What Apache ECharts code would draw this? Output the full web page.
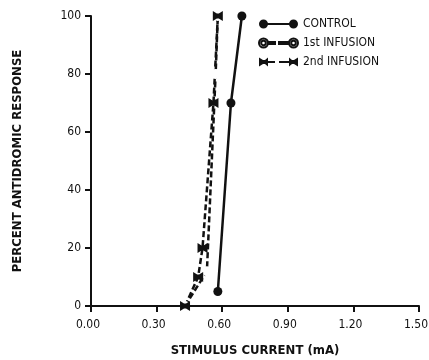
<!DOCTYPE html>
<html>
<head>
<meta charset="utf-8">
<script src="https://cdn.jsdelivr.net/npm/echarts@6/dist/echarts.min.js"></script>
<style>
  html, body { margin: 0; padding: 0; background: #fff; }
  #chart { width: 429px; height: 360px; }
</style>
</head>
<body>
<div id="chart"></div>
<script>
// Stimulus current (mA) vs. percent antidromic response
const seriesNames = ['CONTROL', '1st INFUSION', '2nd INFUSION'];
const controlCurrent = [0.58, 0.64, 0.69];
const controlResponse = [5, 70, 100];
const infusion1Current = [0.43, 0.53, 0.57, 0.58];
const infusion1Response = [0, 12, 80, 100];
const infusion2Current = [0.43, 0.49, 0.51, 0.56, 0.58];
const infusion2Response = [0, 10, 20, 70, 100];
const xTicks = [0, 0.3, 0.6, 0.9, 1.2, 1.5];
const yTicks = [0, 20, 40, 60, 80, 100];

const FONT = "'DejaVu Sans Condensed','Liberation Sans Narrow',sans-serif";
const INK = '#111';

function pairs(xs, ys) { return xs.map((x, i) => [x, ys[i]]); }

// bow-tie marker used for the second infusion
const bowTie = 'path://M0,0 L4,2.5 L6,2.5 L10,0 L10,10 L6,7.5 L4,7.5 L0,10 Z';

// legend sample glyphs: line with a marker at each end
const iconControl = 'path://M0,5 A4.5,4.5 0 1,1 9,5 A4.5,4.5 0 1,1 0,5 Z M8,4 L31,4 L31,6 L8,6 Z M30,5 A4.5,4.5 0 1,1 39,5 A4.5,4.5 0 1,1 30,5 Z';
const iconInf1 = 'path://M0,5 A4.5,4.5 0 1,1 9,5 A4.5,4.5 0 1,1 0,5 Z M2.2,5 A2.3,2.3 0 1,0 6.8,5 A2.3,2.3 0 1,0 2.2,5 Z M9,4 L16,4 L16,6 L9,6 Z M20,4 L30,4 L30,6 L20,6 Z M30,5 A4.5,4.5 0 1,1 39,5 A4.5,4.5 0 1,1 30,5 Z M32.2,5 A2.3,2.3 0 1,0 36.8,5 A2.3,2.3 0 1,0 32.2,5 Z';
const iconInf2 = 'path://M0,0.5 L4,3 L6,3 L9,0.5 L9,9.5 L6,7 L4,7 L0,9.5 Z M9,4 L16,4 L16,6 L9,6 Z M20,4 L30,4 L30,6 L20,6 Z M30,0.5 L33,3 L35,3 L39,0.5 L39,9.5 L35,7 L33,7 L30,9.5 Z';

const chart = echarts.init(document.getElementById('chart'), null, { renderer: 'canvas' });

chart.setOption({
  backgroundColor: '#fff',
  animation: false,
  textStyle: { fontFamily: FONT, color: INK },
  grid: { left: 91, right: 10, top: 16, bottom: 54, containLabel: false, outerBoundsMode: 'none' },
  legend: {
    orient: 'vertical',
    left: 258,
    top: 18,
    padding: 0,
    itemWidth: 39,
    itemHeight: 10,
    itemGap: 7,
    selectedMode: false,
    textStyle: { fontFamily: FONT, fontSize: 12, color: INK },
    data: [
      { name: seriesNames[0], icon: iconControl },
      { name: seriesNames[1], icon: iconInf1 },
      { name: seriesNames[2], icon: iconInf2 }
    ]
  },
  xAxis: {
    type: 'value',
    min: 0,
    max: 1.5,
    interval: 0.3,
    name: 'STIMULUS CURRENT (mA)',
    nameLocation: 'middle',
    nameGap: 38,
    nameTextStyle: { fontFamily: FONT, fontSize: 13, fontWeight: 'bold', color: INK },
    axisLine: { show: true, lineStyle: { color: INK, width: 2 } },
    axisTick: { show: true, inside: false, length: 6, lineStyle: { color: INK, width: 2 } },
    axisLabel: {
      fontFamily: FONT, fontSize: 12, color: INK, margin: 13,
      padding: [0, 6, 0, 0],
      customValues: xTicks,
      formatter: v => v.toFixed(2)
    },
    splitLine: { show: false }
  },
  yAxis: {
    type: 'value',
    min: 0,
    max: 100,
    interval: 20,
    name: 'PERCENT ANTIDROMIC RESPONSE',
    nameLocation: 'middle',
    nameGap: 67,
    nameRotate: 90,
    nameTextStyle: { fontFamily: FONT, fontSize: 13, fontWeight: 'bold', color: INK },
    axisLine: { show: true, lineStyle: { color: INK, width: 2 } },
    axisTick: { show: true, inside: false, length: 6, lineStyle: { color: INK, width: 2 } },
    axisLabel: {
      fontFamily: FONT, fontSize: 12, color: INK, margin: 10,
      customValues: yTicks,
      formatter: v => String(v)
    },
    splitLine: { show: false }
  },
  series: [
    {
      name: seriesNames[0],
      type: 'line',
      data: pairs(controlCurrent, controlResponse),
      symbol: 'circle',
      symbolSize: 9,
      lineStyle: { color: INK, width: 2.5 },
      itemStyle: { color: INK },
      z: 3
    },
    {
      name: seriesNames[1],
      type: 'line',
      data: pairs(infusion1Current, infusion1Response),
      symbol: 'emptyCircle',
      symbolSize: 8,
      lineStyle: { color: INK, width: 2.5, type: [6, 3] },
      itemStyle: { color: '#fff', borderColor: INK, borderWidth: 2.4 },
      z: 2
    },
    {
      name: seriesNames[2],
      type: 'line',
      data: pairs(infusion2Current, infusion2Response),
      symbol: bowTie,
      symbolSize: 10,
      lineStyle: { color: INK, width: 2.5, type: [6, 3] },
      itemStyle: { color: INK },
      z: 2
    }
  ]
});
</script>
</body>
</html>
